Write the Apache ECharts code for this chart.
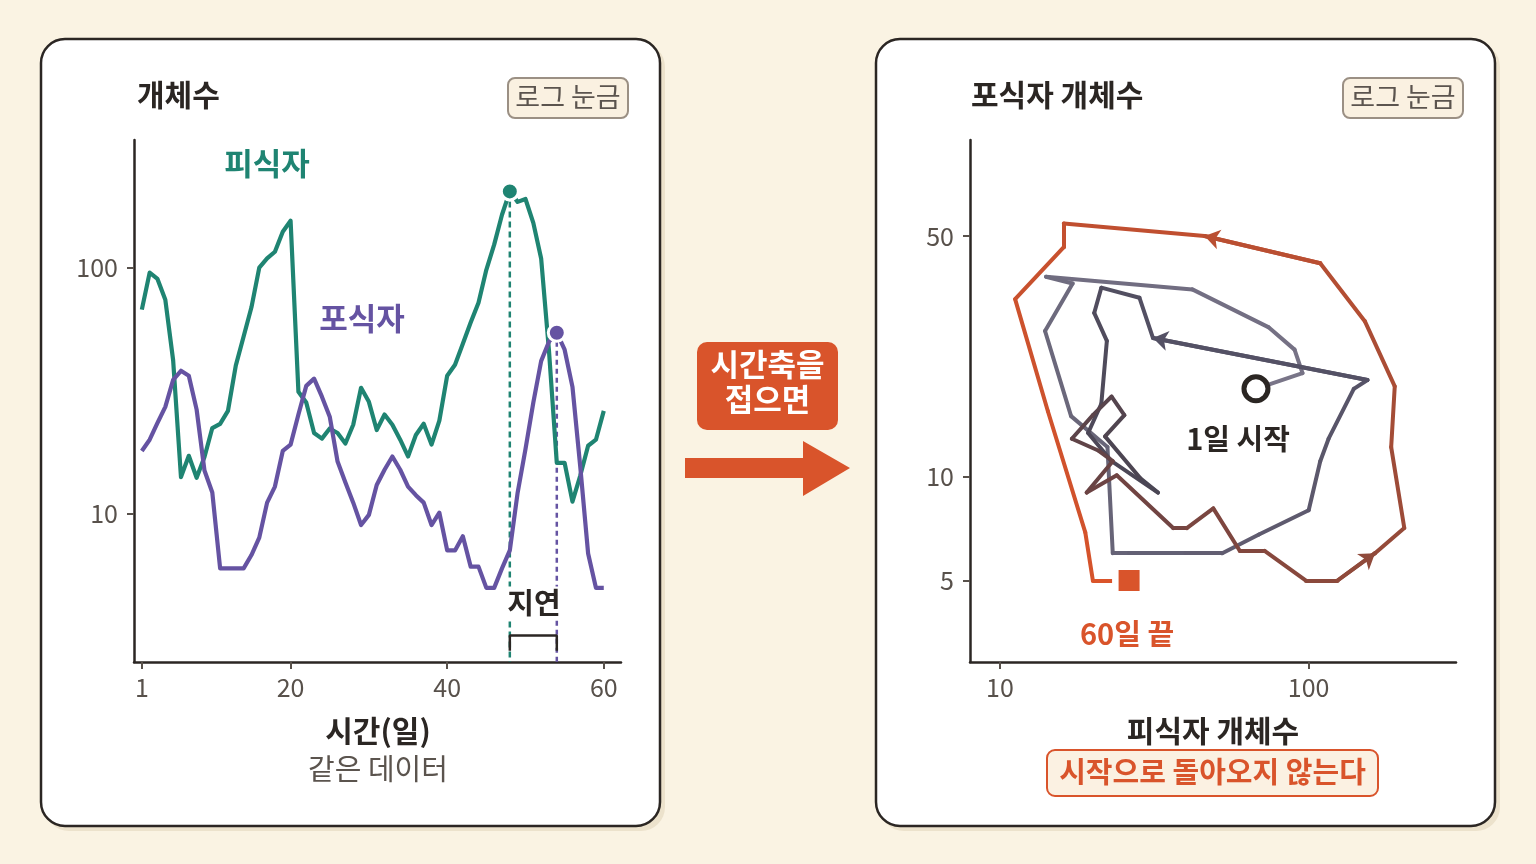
<!DOCTYPE html>
<html><head><meta charset="utf-8">
<script src="https://cdn.jsdelivr.net/npm/echarts@6/dist/echarts.min.js"></script>
<style>html,body{margin:0;padding:0;background:#faf3e3;}#c{width:1536px;height:864px;}</style>
</head><body><div id="c"></div>
<script>
// ---- data ----
const days = [1,2,3,4,5,6,7,8,9,10,11,12,13,14,15,16,17,18,19,20,21,22,23,24,25,26,27,28,29,30,
  31,32,33,34,35,36,37,38,39,40,41,42,43,44,45,46,47,48,49,50,51,52,53,54,55,56,57,58,59,60];
const prey = [67.5,95.5,90,74,42,14.1,17.2,14.0,17,22.3,23.2,26.2,40,52.5,69,100,109,116,140,155,
  31.3,28.3,21.3,20.2,22.2,21.3,19.3,23.0,32.5,28.5,21.9,25.3,23.0,20.0,17.1,20.9,23.2,19.1,23.9,36.4,
  40.3,49.1,59.8,72,98,124,164,204,185,190,152,109,46,16.1,16.1,11.2,14.3,18.9,20.0,26.2];
const predator = [18.0,20.0,23.4,27.2,35.0,38.1,36.4,26.5,15.0,12.2,6.0,6.0,6.0,6.0,6.8,8.0,11.1,12.9,18.0,19.1,
  25.3,33.1,35.4,29.9,24.8,16.3,13.4,11.1,9.0,9.9,13.1,15.1,17.1,15.1,12.9,11.9,11.1,9.0,10.1,7.1,
  7.1,8.1,6.1,6.1,5.0,5.0,6.0,7.1,12.2,18.3,28.3,41.7,50,54.4,46.4,32.8,15.5,6.9,5.0,5.0];
const leftXTicks = [1, 20, 40, 60];
const leftYTicks = [10, 100];
const rightXTicks = [10, 100];
const rightYTicks = [5, 10, 50];
const arrowDays = [21, 47, 53];

// ---- style ----
const C = {bg:'#faf3e3', ink:'#2b2623', gray:'#58514b', green:'#1f8472', purple:'#6553a2', orange:'#d9542b'};
const FONT = '"Noto Sans CJK KR", "Noto Sans", sans-serif';
const pathStops = [[0,'#7a7689'],[0.32,'#555266'],[0.49,'#4a4553'],[0.63,'#6b4343'],[0.78,'#924a3a'],[0.88,'#bd4f31'],[1,'#dc5429']];

function hex(c){return [parseInt(c.slice(1,3),16),parseInt(c.slice(3,5),16),parseInt(c.slice(5,7),16)];}
function colorAt(t){
  for (let k=0;k<pathStops.length-1;k++){
    const [t0,c0]=pathStops[k],[t1,c1]=pathStops[k+1];
    if (t<=t1){const f=(t-t0)/(t1-t0);const a=hex(c0),b=hex(c1);
      return 'rgb('+a.map((v,j)=>Math.round(v+(b[j]-v)*f)).join(',')+')';}
  }
  return pathStops[pathStops.length-1][1];
}

const n = days.length;
const preyData = days.map((d,i)=>[d, prey[i]]);
const predData = days.map((d,i)=>[d, predator[i]]);
const preyPk = prey.indexOf(Math.max(...prey));
const predPk = predator.indexOf(Math.max(...predator));
const leftYMin = 2.5, leftYMax = 330;

const segs = [];
for (let i=0;i<n-1;i++){
  segs.push({coords:[[prey[i],predator[i]],[prey[i+1],predator[i+1]]], lineStyle:{color:colorAt((i+0.5)/(n-1))}});
}
const arrowSegs = arrowDays.map(d=>{const i=days.indexOf(d);return segs[i-1];});

function axisBase(ticks, margin){
  return {
    axisLine:{show:true,onZero:false,lineStyle:{color:C.ink,width:2.5}},
    axisTick:{show:true,length:7,customValues:ticks,lineStyle:{color:C.gray,width:2}},
    axisLabel:{customValues:ticks,color:C.gray,fontSize:25,fontFamily:FONT,margin:margin},
    splitLine:{show:false}, minorTick:{show:false}
  };
}

function txt(x,y,text,size,color,weight,align,extra){
  return Object.assign({type:'text',x:x,y:y,z:100,style:Object.assign({text:text,fill:color,
    font:(weight||'normal')+' '+size+'px '+FONT,align:align||'center',verticalAlign:'middle',
    textAlign:align||'center',textVerticalAlign:'middle'},extra||{})});
}
function panel(x){
  return [
    {type:'rect',z:-20,shape:{x:x+4,y:43,width:620,height:788,r:24},style:{fill:'#ece2cc'}},
    {type:'rect',z:-10,shape:{x:x,y:39,width:619,height:787,r:24},style:{fill:'#ffffff',stroke:C.ink,lineWidth:2.5}}
  ];
}
function badge(x){
  return [
    {type:'rect',z:50,shape:{x:x,y:78,width:120,height:40,r:7},style:{fill:'#faf1e1',stroke:'#9b9084',lineWidth:2}},
    txt(x+60,97,'로그 눈금',27,'#5b544e')
  ];
}

const graphics = [].concat(
  panel(41), panel(876),
  [txt(137,95,'개체수',30,C.ink,'bold','left'), txt(971,95,'포식자 개체수',30,C.ink,'bold','left')],
  badge(508), badge(1343),
  [
    txt(267,163,'피식자',31,C.green,'bold'),
    txt(362,318,'포식자',31,C.purple,'bold'),
    txt(534,603,'지연',29,C.ink,'bold','center',{backgroundColor:'#ffffff',padding:[2,2]}),
    txt(378,731,'시간(일)',30,C.ink,'bold'),
    txt(378,769,'같은 데이터',29,'#5b544e'),
    txt(1238,439,'1일 시작',29,C.ink,'bold'),
    txt(1127,634,'60일 끝',29,C.orange,'bold'),
    txt(1213,731,'피식자 개체수',30,C.ink,'bold'),
    {type:'rect',z:50,shape:{x:1047,y:750,width:331,height:46,r:8},style:{fill:'#fbf1e2',stroke:C.orange,lineWidth:2}},
    txt(1212.5,772,'시작으로 돌아오지 않는다',29,C.orange,'bold'),
    {type:'rect',z:50,shape:{x:697,y:342,width:141,height:88,r:10},style:{fill:C.orange}},
    txt(767.5,364,'시간축을',31,'#ffffff','bold'),
    txt(767.5,399,'접으면',31,'#ffffff','bold'),
    {type:'polygon',z:50,shape:{points:[[685,458],[803,458],[803,441],[850,468],[803,496],[803,478],[685,478]]},style:{fill:C.orange}}
  ]
);

const option = {
  animation:false,
  backgroundColor:C.bg,
  grid:[
    {left:134,top:140,width:487,height:522},
    {left:970,top:140,width:486,height:522}
  ],
  xAxis:[
    Object.assign({gridIndex:0,type:'value',min:0,max:62.2}, axisBase(leftXTicks,13)),
    Object.assign({gridIndex:1,type:'log',logBase:10,min:8,max:300}, axisBase(rightXTicks,13))
  ],
  yAxis:[
    Object.assign({gridIndex:0,type:'log',logBase:10,min:leftYMin,max:leftYMax}, axisBase(leftYTicks,16)),
    Object.assign({gridIndex:1,type:'log',logBase:10,min:2.9,max:95}, axisBase(rightYTicks,16))
  ],
  graphic:{elements:graphics},
  series:[
    {type:'line',xAxisIndex:0,yAxisIndex:0,data:[[days[preyPk],prey[preyPk]],[days[preyPk],leftYMin]],symbol:'none',z:2,
      lineStyle:{color:C.green,width:2.5,type:[6,4]}},
    {type:'line',xAxisIndex:0,yAxisIndex:0,data:[[days[predPk],predator[predPk]],[days[predPk],leftYMin]],symbol:'none',z:2,
      lineStyle:{color:C.purple,width:2.5,type:[5,4]}},
    {type:'line',xAxisIndex:0,yAxisIndex:0,data:[[days[preyPk],2.78],[days[preyPk],3.2],[days[predPk],3.2],[days[predPk],2.78]],
      symbol:'none',z:3,lineStyle:{color:C.ink,width:2.5}},
    {type:'line',xAxisIndex:0,yAxisIndex:0,data:preyData,showSymbol:false,symbol:'none',z:4,
      lineStyle:{color:C.green,width:4.2,join:'round'}},
    {type:'line',xAxisIndex:0,yAxisIndex:0,data:predData,showSymbol:false,symbol:'none',z:5,
      lineStyle:{color:C.purple,width:4.2,join:'round'}},
    {type:'scatter',xAxisIndex:0,yAxisIndex:0,data:[[days[preyPk],prey[preyPk]]],symbolSize:17,z:6,
      itemStyle:{color:C.green,borderColor:'#ffffff',borderWidth:3,opacity:1}},
    {type:'scatter',xAxisIndex:0,yAxisIndex:0,data:[[days[predPk],predator[predPk]]],symbolSize:17,z:6,
      itemStyle:{color:C.purple,borderColor:'#ffffff',borderWidth:3,opacity:1}},
    {type:'lines',coordinateSystem:'cartesian2d',xAxisIndex:1,yAxisIndex:1,data:segs,z:3,symbol:'none',
      lineStyle:{width:4,cap:'round',join:'round',opacity:1}},
    {type:'lines',coordinateSystem:'cartesian2d',xAxisIndex:1,yAxisIndex:1,data:arrowSegs,z:4,
      symbol:['none','arrow'],symbolSize:15,lineStyle:{width:4,cap:'round',opacity:1}},
    {type:'scatter',xAxisIndex:1,yAxisIndex:1,data:[[prey[0],predator[0]]],symbol:'circle',symbolSize:24,z:7,
      itemStyle:{color:'#ffffff',borderColor:C.ink,borderWidth:5,opacity:1}},
    {type:'scatter',xAxisIndex:1,yAxisIndex:1,data:[[prey[n-1],predator[n-1]]],symbol:'rect',symbolSize:34,z:7,
      itemStyle:{color:'#ffffff',opacity:1}},
    {type:'scatter',xAxisIndex:1,yAxisIndex:1,data:[[prey[n-1],predator[n-1]]],symbol:'rect',symbolSize:21,z:8,
      itemStyle:{color:C.orange,opacity:1}}
  ]
};
const chart = echarts.init(document.getElementById('c'),null,{renderer:'canvas',width:1536,height:864});
chart.setOption(option);
</script></body></html>
